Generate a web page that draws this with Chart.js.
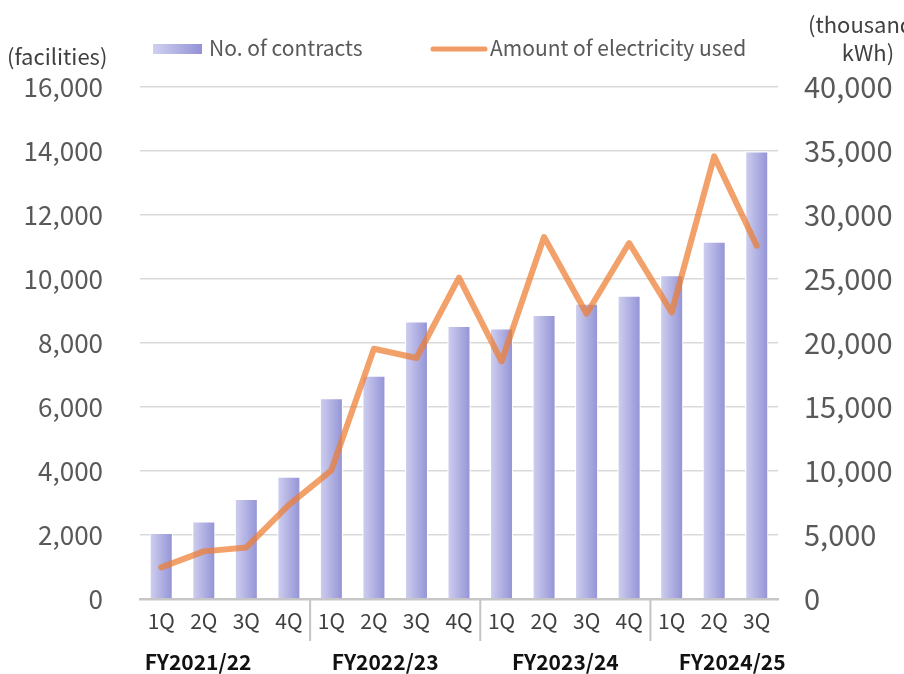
<!DOCTYPE html>
<html>
<head>
<meta charset="utf-8">
<script src="https://cdn.jsdelivr.net/npm/chart.js@4"></script>
<style>
  html, body { margin: 0; padding: 0; background: #fff; }
  #wrap { width: 904px; height: 674px; position: relative; }
</style>
</head>
<body>
<div id="wrap"><canvas id="contractChart"></canvas></div>
<script>
const quarters = ["1Q", "2Q", "3Q", "4Q", "1Q", "2Q", "3Q", "4Q", "1Q", "2Q", "3Q", "4Q", "1Q", "2Q", "3Q"];
const fiscalYears = ["FY2021/22", "FY2022/23", "FY2023/24", "FY2024/25"];
const quartersPerYear = [4, 4, 4, 3];

// facilities under contract (left axis)
const contracts = [2070, 2430, 3130, 3830, 6280, 6980, 8680, 8540, 8460, 8880, 9230, 9480, 10120, 11170, 13990];
// electricity used, thousand kWh (right axis)
const electricity = [2470, 3720, 4030, 7350, 10050, 19550, 18830, 25100, 18560, 28280, 22290, 27810, 22390, 34580, 27600];

const FONT = "'Noto Sans CJK JP', 'Noto Sans', sans-serif";
const ORANGE = "rgba(237,125,49,0.72)";
const BAR_PCT = 0.55;
// year captions sit a little off their group centres
const yearNudge = [-27, -10, 0, 18];

function barGradient(g, x0, x1) {
  const grad = g.createLinearGradient(x0, 0, x1, 0);
  grad.addColorStop(0, "#d0d0f0");
  grad.addColorStop(1, "#9292d6");
  return grad;
}

/* ---------- extra drawing: legend, axis titles, year groups ---------- */
const decor = {
  id: "decor",
  afterDraw(chart) {
    const g = chart.ctx;
    const x = chart.scales.x;
    const area = chart.chartArea;
    const step = x.getPixelForValue(1) - x.getPixelForValue(0);
    g.save();

    // separators between fiscal years + year captions
    let start = 0;
    quartersPerYear.forEach((n, i) => {
      const end = start + n;
      if (i < quartersPerYear.length - 1) {
        const sx = x.getPixelForValue(end - 1) + step / 2;
        g.strokeStyle = "#c4c4c4";
        g.lineWidth = 2;
        g.beginPath();
        g.moveTo(sx, area.bottom);
        g.lineTo(sx, area.bottom + 42);
        g.stroke();
      }
      const left = x.getPixelForValue(start) - step / 2;
      const right = x.getPixelForValue(end - 1) + step / 2;
      g.fillStyle = "#111";
      g.font = "bold 21px " + FONT;
      g.textAlign = "center";
      g.textBaseline = "middle";
      g.fillText(fiscalYears[i], (left + right) / 2 + yearNudge[i], 662);
      start = end;
    });

    // axis titles
    g.fillStyle = "#404040";
    g.font = "22px " + FONT;
    g.textAlign = "left";
    g.fillText("(facilities)", 7, 57);
    g.fillText("(thousand", 808, 25);
    g.textAlign = "center";
    g.fillText("kWh)", 868, 53);

    // legend
    g.font = "21px " + FONT;
    g.fillStyle = barGradient(g, 153, 202);
    g.fillRect(153, 44, 49, 10);
    g.fillStyle = "#595959";
    g.textAlign = "left";
    g.fillText("No. of contracts", 209, 48);
    g.strokeStyle = "rgba(240,150,95,0.95)";
    g.lineWidth = 5;
    g.lineCap = "round";
    g.beginPath();
    g.moveTo(433, 49);
    g.lineTo(485, 49);
    g.stroke();
    g.fillText("Amount of electricity used", 490, 48);

    g.restore();
  }
};

const ctx = document.getElementById("contractChart").getContext("2d");

const chart = new Chart(ctx, {
  data: {
    labels: quarters,
    datasets: [
      {
        type: "line",
        label: "Amount of electricity used",
        data: electricity,
        yAxisID: "y1",
        borderColor: ORANGE,
        borderWidth: 6,
        borderCapStyle: "round",
        borderJoinStyle: "round",
        pointRadius: 0,
        tension: 0,
        order: 0
      },
      {
        type: "bar",
        label: "No. of contracts",
        data: contracts,
        yAxisID: "y",
        backgroundColor: (c) => {
          const ch = c.chart;
          if (!ch.chartArea || c.dataIndex === undefined) return "#b4b4e4";
          const cx = ch.scales.x.getPixelForValue(c.dataIndex);
          const half = ch.chartArea.width / quarters.length * BAR_PCT / 2;
          return barGradient(ch.ctx, cx - half, cx + half);
        },
        borderColor: "#ffffff",
        borderWidth: 1.2,
        barPercentage: BAR_PCT,
        categoryPercentage: 1,
        order: 1
      }
    ]
  },
  options: {
    responsive: true,
    maintainAspectRatio: false,
    animation: false,
    layout: { padding: { top: 87, left: 0, right: 0, bottom: 0 } },
    plugins: {
      legend: { display: false },
      tooltip: { enabled: false }
    },
    scales: {
      x: {
        grid: { display: false, drawTicks: false },
        border: { display: true, color: "#c6c6c6", width: 2.5 },
        ticks: { color: "#404040", font: { family: FONT, size: 21 }, padding: 9, maxRotation: 0 },
        afterFit: (s) => { s.height = 75; }
      },
      y: {
        position: "left",
        min: 0,
        max: 16000,
        grid: { color: "#d9d9d9", lineWidth: 1.5, drawTicks: false },
        border: { display: false },
        ticks: {
          stepSize: 2000,
          padding: 37,
          color: "#595959",
          font: { family: FONT, size: 26 },
          callback: (v) => v.toLocaleString("en-US")
        },
        afterFit: (s) => { s.width = 140; }
      },
      y1: {
        position: "right",
        min: 0,
        max: 40000,
        grid: { display: false, drawTicks: false },
        border: { display: false },
        ticks: {
          stepSize: 5000,
          padding: 26,
          color: "#595959",
          font: { family: FONT, size: 29 },
          callback: (v) => v.toLocaleString("en-US")
        },
        afterFit: (s) => { s.width = 126; }
      }
    }
  },
  plugins: [decor]
});
</script>
</body>
</html>
